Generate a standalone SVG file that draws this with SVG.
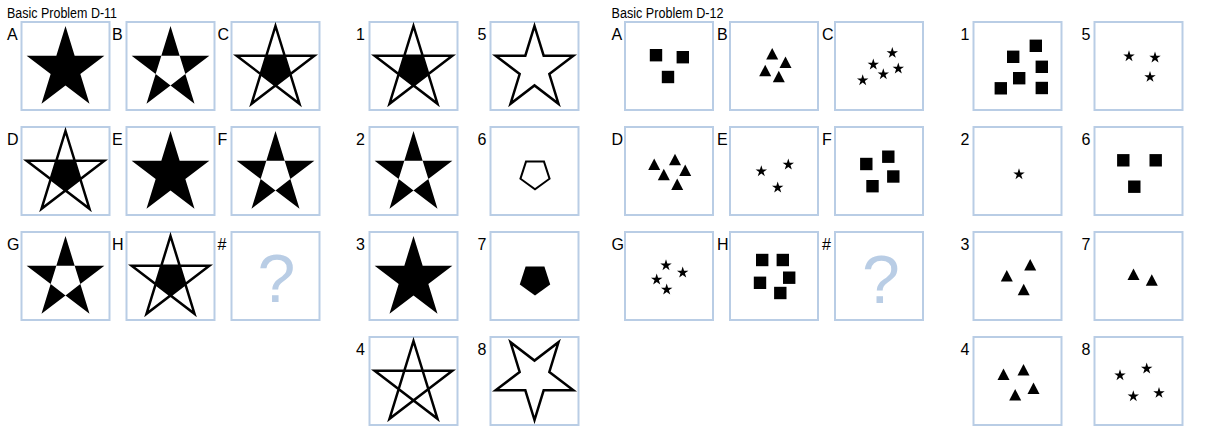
<svg xmlns="http://www.w3.org/2000/svg" xmlns:xlink="http://www.w3.org/1999/xlink" width="1210" height="442" viewBox="0 0 1210 442">
<style>
.box{fill:#fff;stroke:#b9cde5;stroke-width:2}
.lbl{font-family:"Liberation Sans",Arial,sans-serif;font-size:16px;fill:#000}
.ttl{font-family:"Liberation Sans",Arial,sans-serif;font-size:14px;fill:#000}
.q{font-family:"Liberation Sans",Arial,sans-serif;font-size:68px;fill:#b9cde5;text-anchor:middle}
.blk{fill:#000;stroke:none}
.out{fill:#fff;stroke:#000;stroke-width:2.5}
.ln{fill:none;stroke:#000;stroke-width:2.5}
</style>
<defs>
<path id="star" d="M0,-43 L9.17,-13.29 L38.85,-13.29 L14.84,5.07 L24.01,34.79 L0,16.42 L-24.01,34.79 L-14.84,5.07 L-38.85,-13.29 L-9.17,-13.29 Z"/>
<path id="holed" fill-rule="evenodd" d="M0,-43 L9.17,-13.29 L38.85,-13.29 L14.84,5.07 L24.01,34.79 L0,16.42 L-24.01,34.79 L-14.84,5.07 L-38.85,-13.29 L-9.17,-13.29 Z M9.17,-13.29 L14.84,5.07 L0,16.42 L-14.84,5.07 L-9.17,-13.29 Z"/>
<path id="pgram" d="M0,-43 L24.01,34.79 L-38.85,-13.29 L38.85,-13.29 L-24.01,34.79 Z"/>
<path id="inner" d="M9.17,-13.29 L14.84,5.07 L0,16.42 L-14.84,5.07 L-9.17,-13.29 Z"/>
<path id="ss" d="M0,-6 L1.35,-1.85 L5.71,-1.85 L2.18,0.71 L3.53,4.85 L0,2.29 L-3.53,4.85 L-2.18,0.71 L-5.71,-1.85 L-1.35,-1.85Z"/>
<rect id="sq" x="-6.2" y="-6.2" width="12.4" height="12.4"/>
<path id="tri" d="M0,-5.8 L6,5.8 L-6,5.8 Z"/>
</defs>
<rect width="1210" height="442" fill="#fff"/>

<text class="ttl" x="7" y="17.5" textLength="110" lengthAdjust="spacingAndGlyphs">Basic Problem D-11</text>
<text class="ttl" x="611.5" y="17.5" textLength="112" lengthAdjust="spacingAndGlyphs">Basic Problem D-12</text>

<!-- D-11 matrix -->
<g id="d11-A"><text class="lbl" x="7" y="40">A</text><rect class="box" x="21.5" y="22" width="88" height="88"/><use href="#star" class="blk" transform="translate(65.5,69)"/></g>
<g id="d11-B"><text class="lbl" x="112" y="40">B</text><rect class="box" x="126.5" y="22" width="88" height="88"/><use href="#holed" class="blk" transform="translate(170.5,69)"/></g>
<g id="d11-C"><text class="lbl" x="217.5" y="40">C</text><rect class="box" x="231.5" y="22" width="88" height="88"/><use href="#pgram" class="ln" transform="translate(275.5,69)"/><use href="#inner" class="blk" transform="translate(275.5,69)"/></g>
<g id="d11-D"><text class="lbl" x="7" y="145">D</text><rect class="box" x="21.5" y="127" width="88" height="88"/><use href="#pgram" class="ln" transform="translate(65.5,174)"/><use href="#inner" class="blk" transform="translate(65.5,174)"/></g>
<g id="d11-E"><text class="lbl" x="112" y="145">E</text><rect class="box" x="126.5" y="127" width="88" height="88"/><use href="#star" class="blk" transform="translate(170.5,174)"/></g>
<g id="d11-F"><text class="lbl" x="217.5" y="145">F</text><rect class="box" x="231.5" y="127" width="88" height="88"/><use href="#holed" class="blk" transform="translate(275.5,174)"/></g>
<g id="d11-G"><text class="lbl" x="7" y="250">G</text><rect class="box" x="21.5" y="232" width="88" height="88"/><use href="#holed" class="blk" transform="translate(65.5,279)"/></g>
<g id="d11-H"><text class="lbl" x="112" y="250">H</text><rect class="box" x="126.5" y="232" width="88" height="88"/><use href="#pgram" class="ln" transform="translate(170.5,279)"/><use href="#inner" class="blk" transform="translate(170.5,279)"/></g>
<g id="d11-q"><text class="lbl" x="217.5" y="250">#</text><rect class="box" x="231.5" y="232" width="88" height="88"/><text class="q" x="276.5" y="302">?</text></g>

<!-- D-11 answers -->
<g id="d11-1"><text class="lbl" x="356" y="40">1</text><rect class="box" x="369.5" y="22" width="88" height="88"/><use href="#pgram" class="ln" transform="translate(413.5,69)"/><use href="#inner" class="blk" transform="translate(413.5,69)"/></g>
<g id="d11-2"><text class="lbl" x="356" y="145">2</text><rect class="box" x="369.5" y="127" width="88" height="88"/><use href="#holed" class="blk" transform="translate(413.5,174)"/></g>
<g id="d11-3"><text class="lbl" x="356" y="250">3</text><rect class="box" x="369.5" y="232" width="88" height="88"/><use href="#star" class="blk" transform="translate(413.5,279)"/></g>
<g id="d11-4"><text class="lbl" x="356" y="355">4</text><rect class="box" x="369.5" y="337" width="88" height="88"/><use href="#pgram" class="ln" transform="translate(413.5,384)"/></g>
<g id="d11-5"><text class="lbl" x="477.5" y="40">5</text><rect class="box" x="490.5" y="22" width="88" height="88"/><use href="#star" class="out" transform="translate(534.5,69)"/></g>
<g id="d11-6"><text class="lbl" x="477.5" y="145">6</text><rect class="box" x="490.5" y="127" width="88" height="88"/><path d="M8.99,-12.38 L14.55,4.73 L0,15.3 L-14.55,4.73 L-8.99,-12.38 Z" fill="#fff" stroke="#000" stroke-width="2" transform="translate(535,174)"/></g>
<g id="d11-7"><text class="lbl" x="477.5" y="250">7</text><rect class="box" x="490.5" y="232" width="88" height="88"/><path d="M9.4,-12.94 L15.22,4.94 L0,16 L-15.22,4.94 L-9.4,-12.94 Z" class="blk" transform="translate(535,279.5)"/></g>
<g id="d11-8"><text class="lbl" x="477.5" y="355">8</text><rect class="box" x="490.5" y="337" width="88" height="88"/><use href="#star" class="out" transform="translate(534.5,377) rotate(180)"/></g>

<!-- D-12 matrix -->
<g id="d12-A"><text class="lbl" x="611.5" y="40">A</text><rect class="box" x="625" y="22" width="88" height="88"/>
<use href="#sq" x="656" y="55.2"/><use href="#sq" x="682.8" y="57.2"/><use href="#sq" x="668" y="77"/></g>
<g id="d12-B"><text class="lbl" x="717" y="40">B</text><rect class="box" x="730" y="22" width="88" height="88"/>
<use href="#tri" x="772.2" y="53.8"/><use href="#tri" x="785.5" y="62.2"/><use href="#tri" x="765.2" y="70.5"/><use href="#tri" x="778.8" y="76.5"/></g>
<g id="d12-C"><text class="lbl" x="822" y="40">C</text><rect class="box" x="835" y="22" width="88" height="88"/>
<use href="#ss" x="892.3" y="53"/><use href="#ss" x="898.3" y="68.6"/><use href="#ss" x="873.3" y="64.6"/><use href="#ss" x="883.3" y="74.3"/><use href="#ss" x="862.7" y="80.3"/></g>
<g id="d12-D"><text class="lbl" x="611.5" y="145">D</text><rect class="box" x="625" y="127" width="88" height="88"/>
<use href="#tri" x="654.2" y="164.3"/><use href="#tri" x="675" y="159.5"/><use href="#tri" x="685.2" y="170.2"/><use href="#tri" x="663.8" y="174.5"/><use href="#tri" x="677.2" y="184.2"/></g>
<g id="d12-E"><text class="lbl" x="717" y="145">E</text><rect class="box" x="730" y="127" width="88" height="88"/>
<use href="#ss" x="761.3" y="171.3"/><use href="#ss" x="788.3" y="164.6"/><use href="#ss" x="777.7" y="187.6"/></g>
<g id="d12-F"><text class="lbl" x="822" y="145">F</text><rect class="box" x="835" y="127" width="88" height="88"/>
<use href="#sq" x="866.3" y="164"/><use href="#sq" x="888.3" y="156.7"/><use href="#sq" x="893.3" y="176.5"/><use href="#sq" x="872.5" y="186.2"/></g>
<g id="d12-G"><text class="lbl" x="611.5" y="250">G</text><rect class="box" x="625" y="232" width="88" height="88"/>
<use href="#ss" x="666" y="265.3"/><use href="#ss" x="682.7" y="272.6"/><use href="#ss" x="656.7" y="279.6"/><use href="#ss" x="666.7" y="289.6"/></g>
<g id="d12-H"><text class="lbl" x="717" y="250">H</text><rect class="box" x="730" y="232" width="88" height="88"/>
<use href="#sq" x="762.2" y="260"/><use href="#sq" x="782.8" y="260"/><use href="#sq" x="789.2" y="277.7"/><use href="#sq" x="760" y="282.8"/><use href="#sq" x="780.3" y="293"/></g>
<g id="d12-q"><text class="lbl" x="822" y="250">#</text><rect class="box" x="835" y="232" width="88" height="88"/><text class="q" x="881" y="303">?</text></g>

<!-- D-12 answers -->
<g id="d12-1"><text class="lbl" x="960.5" y="40">1</text><rect class="box" x="973.5" y="22" width="88" height="88"/>
<use href="#sq" x="1013.2" y="56.8"/><use href="#sq" x="1035.8" y="45.8"/><use href="#sq" x="1041.8" y="66.8"/><use href="#sq" x="1019.2" y="78.2"/><use href="#sq" x="1000.8" y="88.3"/><use href="#sq" x="1041.8" y="88"/></g>
<g id="d12-2"><text class="lbl" x="960.5" y="145">2</text><rect class="box" x="973.5" y="127" width="88" height="88"/>
<use href="#ss" x="1019" y="174.3"/></g>
<g id="d12-3"><text class="lbl" x="960.5" y="250">3</text><rect class="box" x="973.5" y="232" width="88" height="88"/>
<use href="#tri" x="1006.8" y="275.8"/><use href="#tri" x="1030.2" y="264.8"/><use href="#tri" x="1023.7" y="289.5"/></g>
<g id="d12-4"><text class="lbl" x="960.5" y="355">4</text><rect class="box" x="973.5" y="337" width="88" height="88"/>
<use href="#tri" x="1003.5" y="374.2"/><use href="#tri" x="1023.5" y="369.8"/><use href="#tri" x="1015.2" y="394.8"/><use href="#tri" x="1033.5" y="388.2"/></g>
<g id="d12-5"><text class="lbl" x="1081.5" y="40">5</text><rect class="box" x="1094.5" y="22" width="88" height="88"/>
<use href="#ss" x="1129" y="56.3"/><use href="#ss" x="1155" y="57.6"/><use href="#ss" x="1150" y="77"/></g>
<g id="d12-6"><text class="lbl" x="1081.5" y="145">6</text><rect class="box" x="1094.5" y="127" width="88" height="88"/>
<use href="#sq" x="1123.3" y="160.3"/><use href="#sq" x="1155.7" y="160.3"/><use href="#sq" x="1134.3" y="186.7"/></g>
<g id="d12-7"><text class="lbl" x="1081.5" y="250">7</text><rect class="box" x="1094.5" y="232" width="88" height="88"/>
<use href="#tri" x="1133.5" y="274.2"/><use href="#tri" x="1151.8" y="280"/></g>
<g id="d12-8"><text class="lbl" x="1081.5" y="355">8</text><rect class="box" x="1094.5" y="337" width="88" height="88"/>
<use href="#ss" x="1120" y="375.3"/><use href="#ss" x="1146.7" y="368.6"/><use href="#ss" x="1133.3" y="396.3"/><use href="#ss" x="1159" y="393"/></g>
</svg>
